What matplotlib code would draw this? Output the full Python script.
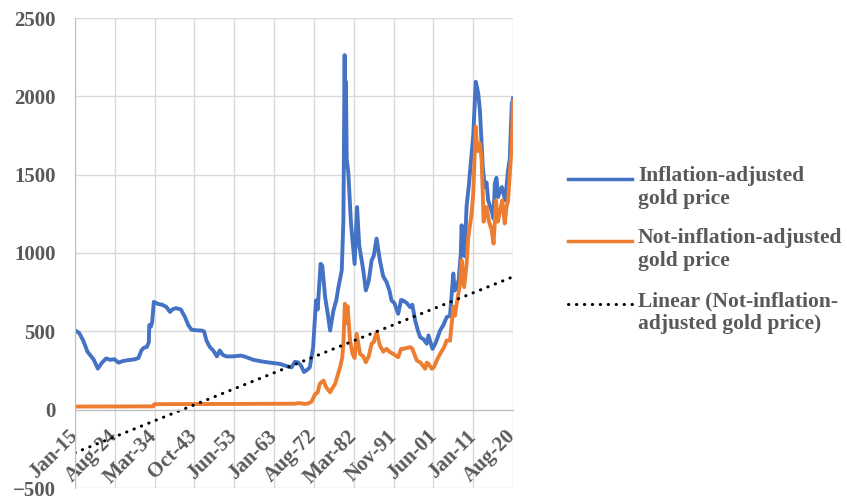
import matplotlib.pyplot as plt
from matplotlib.lines import Line2D

plt.rcParams['font.family'] = ['Liberation Serif', 'DejaVu Serif']
plt.rcParams['font.weight'] = 'bold'

# category labels of the x axis
tick_labels = ['Jan-15', 'Aug-24', 'Mar-34', 'Oct-43', 'Jun-53', 'Jan-63',
               'Aug-72', 'Mar-82', 'Nov-91', 'Jun-01', 'Jan-11', 'Aug-20']

# inflation-adjusted gold price
blue_years = [1915.0, 1916.0, 1917.0, 1918.0, 1919.5, 1920.5, 1921.5, 1922.5, 1923.5, 1924.5,
              1925.5, 1926.5, 1927.5, 1928.5, 1929.5, 1930.3, 1931.0, 1931.6, 1932.3, 1932.8,
              1932.9, 1933.3, 1933.6, 1934.0, 1935.0, 1936.0, 1937.0, 1937.9, 1938.5, 1939.3,
              1940.5, 1941.5, 1942.3, 1943.1, 1944.5, 1945.5, 1946.1, 1946.7, 1947.5, 1948.3,
              1949.2, 1949.9, 1950.6, 1951.5, 1953.0, 1955.0, 1956.0, 1958.0, 1960.0, 1962.0,
              1964.4, 1966.0, 1967.2, 1968.0, 1968.8, 1969.5, 1970.2, 1971.0, 1971.6, 1972.4,
              1973.1, 1973.5, 1974.2, 1974.6, 1975.3, 1976.0, 1976.5, 1977.3, 1978.0, 1978.5,
              1979.3, 1979.7, 1980.0, 1980.15, 1980.3, 1980.5, 1980.9, 1981.5, 1982.4, 1983.0,
              1983.5, 1984.5, 1985.1, 1985.8, 1986.5, 1987.0, 1987.7, 1988.5, 1989.3, 1990.1,
              1990.8, 1991.3, 1992.0, 1992.9, 1993.6, 1994.1, 1995.0, 1995.8, 1996.3, 1997.0,
              1997.6, 1998.2, 1999.0, 1999.8, 2000.2, 2000.8, 2001.2, 2002.0, 2003.0, 2003.8,
              2004.6, 2005.4, 2006.2, 2006.5, 2007.0, 2007.5, 2008.0, 2008.2, 2008.5, 2008.9,
              2009.4, 2009.9, 2010.6, 2011.0, 2011.6, 2012.2, 2012.6, 2013.0, 2013.3, 2013.8,
              2014.2, 2014.6, 2015.4, 2015.9, 2016.2, 2016.6, 2017.0, 2017.5, 2017.9, 2018.7,
              2019.4, 2019.8, 2020.3, 2020.58]
blue_values = [506, 490, 440, 370, 320, 262, 300, 327, 318, 322,
               300, 310, 315, 318, 322, 330, 378, 395, 400, 430,
               540, 530, 560, 688, 675, 670, 656, 624, 640, 648,
               640, 592, 540, 510, 506, 505, 500, 440, 400, 378,
               340, 378, 350, 340, 340, 345, 338, 318, 308, 300,
               292, 278, 270, 305, 302, 280, 240, 255, 270, 398,
               697, 640, 931, 920, 718, 600, 505, 633, 700, 782,
               889, 1209, 2263, 1635, 2093, 1600, 1507, 1200, 930, 1293,
               1050, 889, 761, 820, 953, 980, 1092, 953, 850, 815,
               760, 697, 680, 612, 700, 697, 680, 654, 670, 570,
               510, 463, 450, 421, 474, 420, 388, 430, 505, 540,
               590, 600, 869, 760, 782, 830, 997, 1177, 1038, 980,
               1300, 1421, 1635, 1750, 2093, 2019, 1912, 1700, 1549, 1421,
               1450, 1336, 1272, 1220, 1443, 1480, 1357, 1400, 1421, 1336,
               1528, 1600, 1954, 1987]

# not-inflation-adjusted gold price
orange_years = [1915.0, 1933.9, 1934.1, 1968.0, 1969.0, 1970.5, 1971.2, 1972.0, 1972.9, 1973.5,
                1974.0, 1974.9, 1975.5, 1976.5, 1977.0, 1977.7, 1978.9, 1979.4, 1979.7, 1980.05,
                1980.2, 1980.7, 1981.3, 1981.9, 1982.4, 1982.9, 1983.7, 1984.5, 1985.1, 1985.8,
                1986.5, 1987.0, 1987.7, 1988.5, 1989.3, 1990.1, 1990.8, 1991.7, 1992.9, 1993.6,
                1994.1, 1995.8, 1996.3, 1997.4, 1998.3, 1999.4, 1999.8, 2000.2, 2001.0, 2001.5,
                2002.3, 2003.0, 2004.0, 2004.6, 2005.4, 2006.2, 2006.6, 2007.0, 2007.8, 2008.2,
                2008.8, 2009.4, 2009.8, 2010.6, 2011.0, 2011.6, 2012.0, 2012.6, 2013.0, 2013.3,
                2013.5, 2014.2, 2014.8, 2015.4, 2015.9, 2016.5, 2016.9, 2017.4, 2018.0, 2018.6,
                2019.0, 2019.4, 2019.8, 2020.3, 2020.58]
orange_values = [20, 21, 35, 38, 42, 36, 40, 50, 100, 110,
                 165, 186, 145, 111, 135, 165, 271, 330, 421, 676,
                 550, 660, 442, 356, 330, 484, 356, 340, 303, 340,
                 421, 430, 495, 410, 370, 388, 370, 356, 335, 388,
                 388, 399, 390, 314, 300, 261, 300, 293, 261, 270,
                 320, 356, 400, 442, 440, 657, 600, 676, 800, 953,
                 782, 930, 1100, 1250, 1380, 1806, 1650, 1700, 1600, 1380,
                 1200, 1294, 1200, 1150, 1060, 1336, 1200, 1260, 1336, 1188,
                 1290, 1336, 1500, 1700, 1970]

# linear trendline of the nominal price (end values)
trend_years = [1915.0, 2020.58]
trend_values = [-275, 848]

legend_labels = ['Inflation-adjusted\ngold price',
                 'Not-inflation-adjusted\ngold price',
                 'Linear (Not-inflation-\nadjusted gold price)']

month_num = {'Jan': 0, 'Feb': 1, 'Mar': 2, 'Apr': 3, 'May': 4, 'Jun': 5,
             'Jul': 6, 'Aug': 7, 'Sep': 8, 'Oct': 9, 'Nov': 10, 'Dec': 11}

# two digit years -> full years, the century rolls over when the year drops
tick_pos = []
century = 1900
prev = -1
for t in tick_labels:
    m, y = t.split('-')
    y = int(y)
    if y < prev:
        century += 100
    prev = y
    tick_pos.append(century + y + month_num[m] / 12)

txt_color = '#595959'
blue = '#4472C4'
orange = '#ED7D31'

fig = plt.figure(figsize=(8.47, 5.0), dpi=100)
ax = fig.add_axes([75 / 847, 12 / 500, 438 / 847, 470 / 500])

ax.plot(blue_years, blue_values, color=blue, lw=2.8, solid_joinstyle='round')
ax.plot(orange_years, orange_values, color=orange, lw=2.8, solid_joinstyle='round')
ax.plot(trend_years, trend_values, color='black', lw=2.2,
        linestyle=(0, (0.1, 2.5)), dash_capstyle='round')

ax.set_yticks(range(-500, 2501, 500))
ax.set_xticks(tick_pos)
ax.set_xticklabels(tick_labels)
ax.set_xlim(tick_pos[0], tick_pos[-1])
ax.set_ylim(-500, 2500)
ax.grid(color='#d9d9d9', lw=1)
ax.set_axisbelow(True)

for s in ['top', 'right']:
    ax.spines[s].set_visible(False)
ax.spines['bottom'].set_position(('data', 0))
ax.spines['bottom'].set_color('#bfbfbf')
ax.spines['left'].set_color('#bfbfbf')
ax.tick_params(axis='both', length=0, colors=txt_color, labelsize=15)
ax.tick_params(axis='y', pad=14)
ax.tick_params(axis='x', pad=17)
plt.setp(ax.get_xticklabels(), rotation=45, ha='right', va='center',
         rotation_mode='anchor')

# legend drawn on the right like Excel (handle next to first text line)
legend_styles = [dict(color=blue, lw=2.5),
                 dict(color=orange, lw=2.5),
                 dict(color='black', lw=2.2, linestyle=(0, (0.1, 2.5)), dash_capstyle='round')]
row_y = [179, 241, 304]
for lbl, st, yy in zip(legend_labels, legend_styles, row_y):
    yf = 1 - yy / 500
    fig.add_artist(Line2D([568 / 847, 632 / 847], [yf, yf], **st))
    fig.text(638 / 847, yf + 13 / 500, lbl, ha='left', va='top', fontsize=15.5,
             color=txt_color, fontweight='bold', linespacing=1.2)

fig.savefig('out.png', dpi=100)
